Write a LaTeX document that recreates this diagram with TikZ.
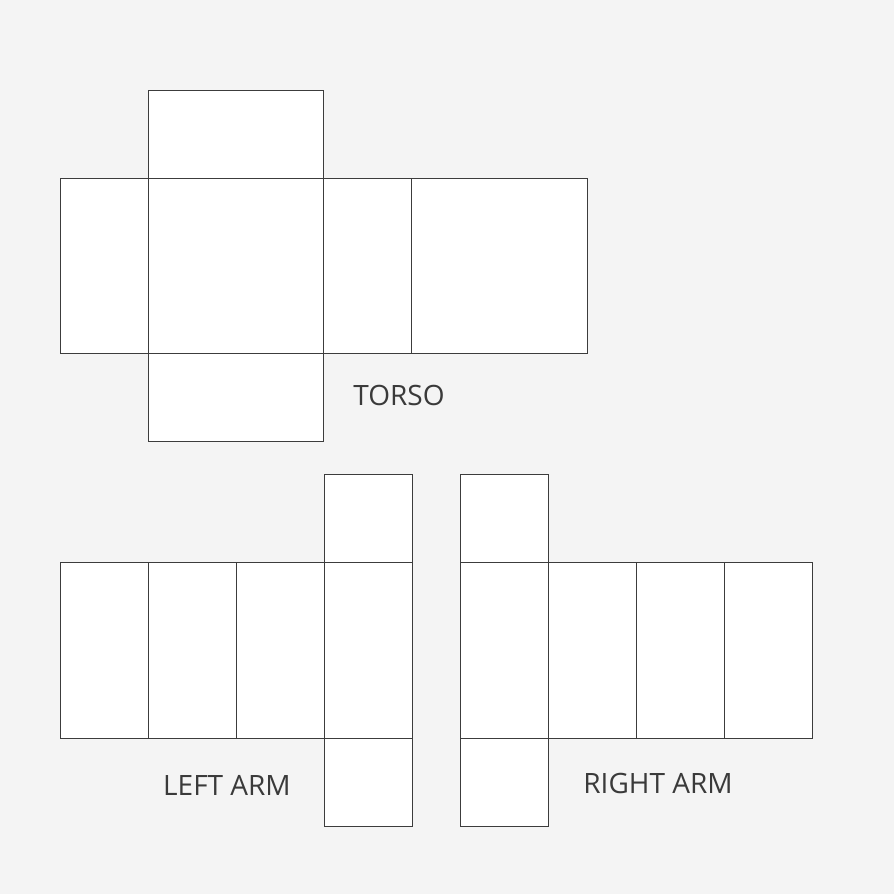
\documentclass[tikz,border=0pt]{standalone}
\usepackage{fontspec}
\setmainfont{Open Sans}
\definecolor{bgcol}{HTML}{F4F4F4}
\definecolor{edgecol}{HTML}{3C3C3C}
\definecolor{txtcol}{HTML}{3A3A3A}
\begin{document}
\begin{tikzpicture}
      [x=.75pt,y=-.75pt
      ,fil/.style={fill=white}
      ,lin/.style={draw=edgecol,line width=.6pt}
      ,lab/.style={text=txtcol,font=\fontsize{21}{25}\selectfont,inner sep=0pt}
      ]
        \fill[bgcol] (0,0) rectangle (894,894);
        \useasboundingbox (0,0) rectangle (894,894);

        % torso
        \draw[fil,lin] (148,90) rectangle (323,178);
        \draw[fil,lin] (60,178) rectangle (148,353);
        \draw[fil,lin] (148,178) rectangle (323,353);
        \draw[fil,lin] (323,178) rectangle (411,353);
        \draw[fil,lin] (411,178) rectangle (587,353);
        \draw[fil,lin] (148,353) rectangle (323,441);
        \node[lab] (torso) at (399,395) {TORSO};

        % arms
        \foreach \i in {0,1,...,3}{
            \draw[fil,lin] (60+88*\i,562) rectangle (148+88*\i,738);
            \draw[fil,lin] (460+88*\i,562) rectangle (548+88*\i,738);
        }
        \draw[fil,lin] (324,474) rectangle (412,562);
        \draw[fil,lin] (324,738) rectangle (412,826);
        \draw[fil,lin] (460,474) rectangle (548,562);
        \draw[fil,lin] (460,738) rectangle (548,826);
        \node[lab] (leftarm) at (227,785) {LEFT ARM};
        \node[lab] (rightarm) at (658,783) {RIGHT ARM};

      \end{tikzpicture}
\end{document}
